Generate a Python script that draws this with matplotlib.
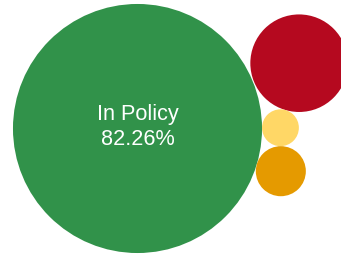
import numpy as np
import matplotlib
matplotlib.use("Agg")
import matplotlib.pyplot as plt
from matplotlib.patches import Circle

# Data
categories = ["In Policy", "Out of Policy", "Warning", "Pending"]
shares = [82.26, 12.62, 1.80, 3.32]
colors = ["#31924a", "#b5091f", "#ffd766", "#e59a00"]
show_label = [True, False, False, False]

# Layout parameters (pixels)
W, H = 341, 254
scale = 13.73          # px per sqrt(percent)
main_center = (137.5, 128.5)
first_angle = np.deg2rad(-22.0)


def tangent_to_two(a, ra, b, rb, r):
    # circle of radius r tangent to circles (a, ra) and (b, rb); choose lower one (larger y)
    a = np.asarray(a, float); b = np.asarray(b, float)
    d = np.linalg.norm(b - a)
    da, db = ra + r, rb + r
    x = (da**2 - db**2 + d**2) / (2 * d)
    h = np.sqrt(max(da**2 - x**2, 0.0))
    u = (b - a) / d
    perp = np.array([-u[1], u[0]])
    p1 = a + u * x + perp * h
    p2 = a + u * x - perp * h
    return p1 if p1[1] > p2[1] else p2


radii = [scale * np.sqrt(v) for v in shares]
r0 = radii[0]
pos = {0: np.array(main_center, float)}
pos[1] = pos[0] + (r0 + radii[1] + 1.0) * np.array([np.cos(first_angle), np.sin(first_angle)])
prev = 1
for i in [2, 3]:
    pos[i] = tangent_to_two(pos[0], r0, pos[prev], radii[prev], radii[i])
    prev = i

fig = plt.figure(figsize=(W / 100, H / 100), dpi=100)
ax = fig.add_axes([0, 0, 1, 1])
ax.set_xlim(0, W)
ax.set_ylim(H, 0)
ax.axis("off")

for i in range(len(categories)):
    ax.add_patch(Circle(pos[i], radii[i], facecolor=colors[i], edgecolor="none", antialiased=True))
    if show_label[i]:
        ax.text(pos[i][0] + 0.5, pos[i][1] - 1.5, f"{categories[i]}\n{shares[i]:.2f}%",
                ha="center", va="center", color="white", fontsize=15.6,
                family="Liberation Sans", linespacing=1.2)

fig.savefig("out.png", dpi=100)
